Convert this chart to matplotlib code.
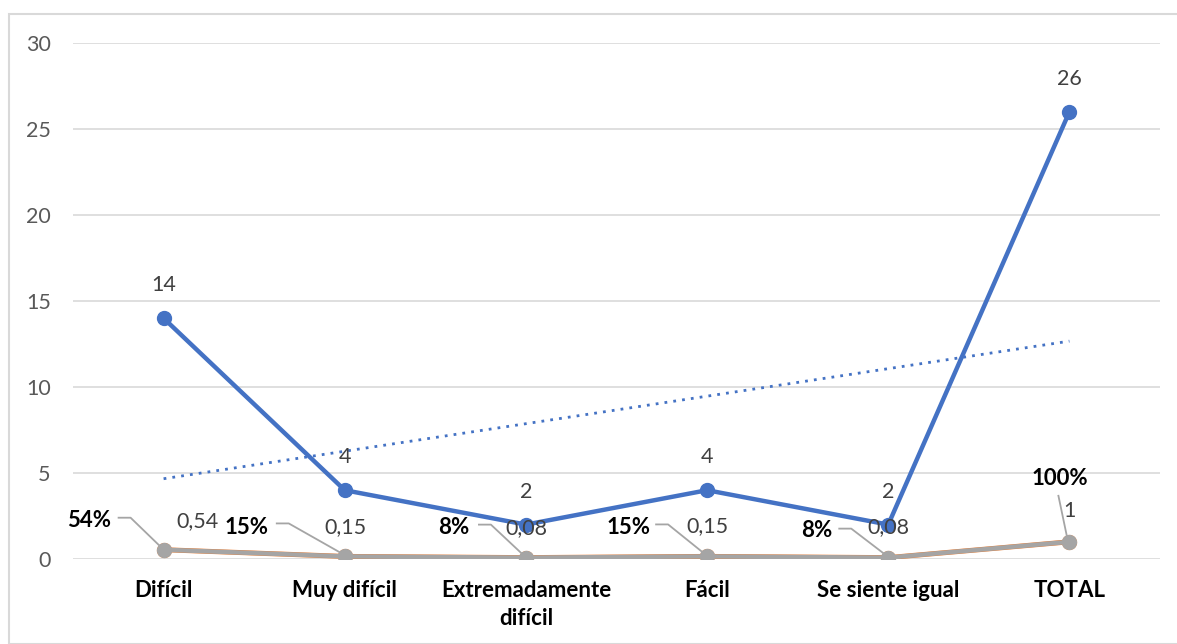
import numpy as np
import matplotlib
matplotlib.use("Agg")
import matplotlib.pyplot as plt
from matplotlib.lines import Line2D
from matplotlib.patches import Rectangle

# ---- data ----
categories = ["Difícil", "Muy difícil", "Extremadamente\ndifícil", "Fácil", "Se siente igual", "TOTAL"]
counts = [14, 4, 2, 4, 2, 26]
proportions = [0.54, 0.15, 0.08, 0.15, 0.08, 1.0]
percent_labels = ["54%", "15%", "8%", "15%", "8%", "100%"]
prop_labels = ["0,54", "0,15", "0,08", "0,15", "0,08", "1"]
yticks = [0, 5, 10, 15, 20, 25, 30]

# ---- layout (pixel offsets of manually placed labels) ----
pct_off = [(-75, 29), (-98, 29), (-72, 30), (-79, 29), (-72, 27), (-10, 63)]
prop_off = [(34, 29), (1, 29), (0, 30), (0, 30), (0, 31), (0, 31)]
leader = [
    [(-45, 32), (-33, 32), (-3, 3)],
    [(-68, 33), (-56, 33), (-3, 3)],
    [(-47, 33), (-35, 33), (-3, 3)],
    [(-51, 32), (-39, 32), (-3, 3)],
    [(-49, 29), (-37, 29), (-3, 3)],
    [(-11, 46), (-2, 3)],
]

plt.rcParams['font.family'] = ['Lato', 'DejaVu Sans']

W, H = 1177, 644
fig = plt.figure(figsize=(W / 100, H / 100), dpi=100)
fig.patches.append(Rectangle((9 / W, 0), 1.2, 1 - 14 / H, transform=fig.transFigure,
                             fill=False, edgecolor="#d9d9d9", linewidth=1.5))
ax = fig.add_axes([73 / W, 1 - 559 / H, (1160 - 73) / W, (559 - 43) / H])

x = np.arange(len(categories))
ax.set_xlim(-0.5, len(categories) - 0.5)
ax.set_ylim(0, 30)

blue = "#4472C4"
gray = "#A5A5A5"
orange = "#ED7D31"

ax.plot(x, proportions, color=orange, lw=3.6, marker="o", ms=10, zorder=3)
ax.plot(x, proportions, color=gray, lw=3.2, marker="o", ms=10, zorder=4)
ax.plot(x, counts, color=blue, lw=3.2, marker="o", ms=10, zorder=5)

# linear trend line of counts
coef = np.polyfit(x, counts, 1)
ax.plot(x, np.polyval(coef, x), color=blue, lw=2.0, ls=(0, (1, 2.2)), zorder=2)

ax.set_yticks(yticks)
ax.grid(axis="y", color="#d9d9d9", lw=1.2)
ax.set_axisbelow(True)
for s in ax.spines.values():
    s.set_visible(False)
ax.tick_params(axis="both", length=0)
ax.tick_params(axis="y", labelsize=15.5, labelcolor="#595959", pad=16)
ax.set_xticks(x)
ax.set_xticklabels(categories, fontsize=16, fontweight="bold", color="black", linespacing=1.45)
ax.tick_params(axis="x", pad=15)

# blue value labels
for xi, v in zip(x, counts):
    ax.annotate(str(v), (xi, v), xytext=(0, 33), textcoords="offset pixels",
                ha="center", va="center", fontsize=15.5, color="#404040", zorder=6)

# gray proportion labels & bold percentage labels with leader lines
for i, (xi, v) in enumerate(zip(x, proportions)):
    ax.annotate(prop_labels[i], (xi, v), xytext=prop_off[i], textcoords="offset pixels",
                ha="center", va="center", fontsize=15.5, color="#404040", zorder=6)
    ax.annotate(percent_labels[i], (xi, v), xytext=pct_off[i], textcoords="offset pixels",
                ha="center", va="center", fontsize=16, fontweight="bold", color="black", zorder=6)
    px, py = ax.transData.transform((xi, v))
    pts = leader[i]
    line = Line2D([px + dx for dx, dy in pts], [py + dy for dx, dy in pts],
                  transform=None, color="#A5A5A5", lw=1.3, zorder=3)
    fig.add_artist(line)

fig.savefig("out.png", dpi=100)
